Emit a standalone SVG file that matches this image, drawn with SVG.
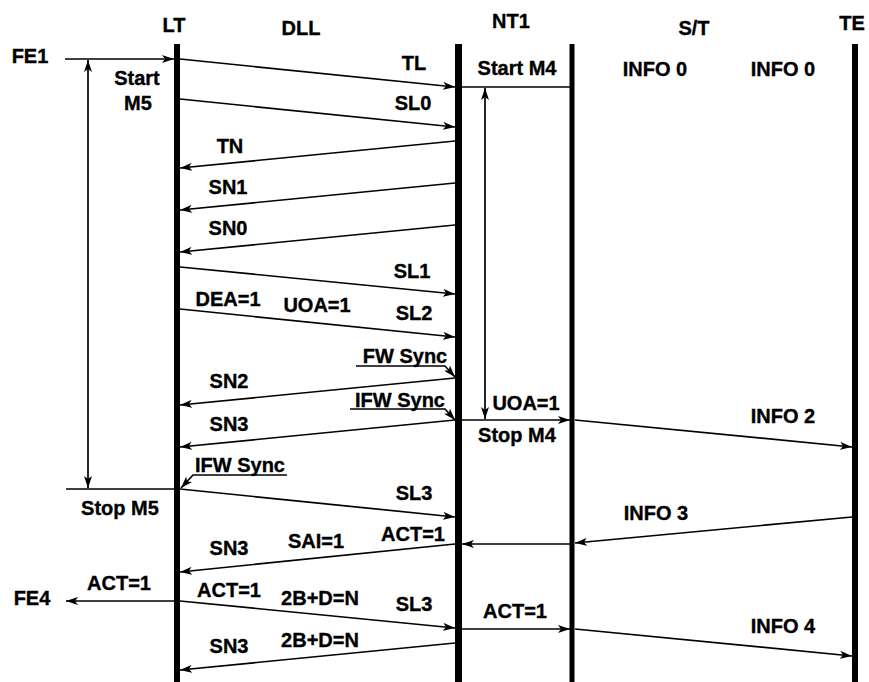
<svg xmlns="http://www.w3.org/2000/svg" width="869" height="682" viewBox="0 0 869 682">
<style>
text{font-family:"Liberation Sans",Arial,sans-serif;font-weight:bold;font-size:20px;fill:#000;stroke:#000;stroke-width:0.35;text-anchor:middle}
.life{stroke:#000;fill:none}
.c{stroke:#000;stroke-width:1.7;fill:none}
.a{marker-end:url(#ah)}
.b{marker-start:url(#ah);marker-end:url(#ah)}
</style>
<defs>
<marker id="ah" viewBox="0 0 12 8" refX="12" refY="4" markerWidth="12" markerHeight="8" orient="auto-start-reverse" markerUnits="userSpaceOnUse">
<path d="M0,0 L12,4 L0,8 L3,4 z" fill="#000"/>
</marker>
</defs>
<rect width="869" height="682" fill="#fff"/>
<g id="LT"><line class="life" x1="177" y1="44" x2="177" y2="682" stroke-width="6"/><text x="174" y="32">LT</text></g>
<g id="DLL"><text x="301" y="35">DLL</text></g>
<g id="NT1"><line class="life" x1="458.5" y1="44" x2="458.5" y2="682" stroke-width="7"/><text x="511" y="28">NT1</text></g>
<g id="ST"><line class="life" x1="572" y1="44" x2="572" y2="682" stroke-width="5"/><text x="694" y="35">S/T</text></g>
<g id="TE"><line class="life" x1="855" y1="44" x2="855" y2="682" stroke-width="6"/><text x="852" y="30">TE</text></g>
<g id="connectors">
<line class="c a" x1="65" y1="59" x2="174" y2="59"/>
<line class="c a" x1="180" y1="59" x2="455" y2="87"/>
<line class="c" x1="462" y1="87" x2="570" y2="87"/>
<line class="c a" x1="180" y1="99" x2="455" y2="127"/>
<line class="c a" x1="455" y1="141" x2="180" y2="168"/>
<line class="c a" x1="455" y1="183" x2="180" y2="210"/>
<line class="c a" x1="455" y1="225" x2="180" y2="252"/>
<line class="c a" x1="180" y1="267" x2="455" y2="294"/>
<line class="c a" x1="180" y1="309" x2="455" y2="337"/>
<polyline class="c a" points="356,366 445,366 455,377"/>
<line class="c a" x1="455" y1="378" x2="180" y2="405"/>
<polyline class="c a" points="350,409 445,409 455,420"/>
<line class="c a" x1="455" y1="420" x2="180" y2="447"/>
<line class="c a" x1="462" y1="420" x2="570" y2="420"/>
<line class="c a" x1="575" y1="420" x2="852" y2="447"/>
<line class="c b" x1="485" y1="88" x2="485" y2="419"/>
<line class="c b" x1="88" y1="60" x2="88" y2="488"/>
<line class="c" x1="66" y1="489" x2="174" y2="489"/>
<polyline class="c a" points="287,475 193,475 181,488"/>
<line class="c a" x1="180" y1="489" x2="455" y2="517"/>
<line class="c a" x1="852" y1="517" x2="575" y2="543"/>
<line class="c a" x1="570" y1="544" x2="462" y2="544"/>
<line class="c a" x1="455" y1="544" x2="180" y2="572"/>
<line class="c a" x1="174" y1="601" x2="66" y2="601"/>
<line class="c a" x1="180" y1="601" x2="455" y2="628"/>
<line class="c a" x1="462" y1="629" x2="570" y2="629"/>
<line class="c a" x1="575" y1="629" x2="852" y2="656"/>
<line class="c a" x1="455" y1="643" x2="180" y2="670"/>
</g>
<g id="labels">
<text x="30" y="63">FE1</text>
<text x="137" y="85">Start</text>
<text x="138" y="110">M5</text>
<text x="414" y="70">TL</text>
<text x="517" y="75">Start M4</text>
<text x="655" y="76">INFO 0</text>
<text x="783" y="76">INFO 0</text>
<text x="413" y="110">SL0</text>
<text x="230" y="153">TN</text>
<text x="228" y="194">SN1</text>
<text x="228" y="235">SN0</text>
<text x="412" y="278">SL1</text>
<text x="228" y="306">DEA=1</text>
<text x="317" y="312">UOA=1</text>
<text x="414" y="320">SL2</text>
<text x="405" y="363">FW Sync</text>
<text x="229" y="388">SN2</text>
<text x="400" y="407">IFW Sync</text>
<text x="526" y="410">UOA=1</text>
<text x="229" y="431">SN3</text>
<text x="517" y="442">Stop M4</text>
<text x="783" y="423">INFO 2</text>
<text x="240" y="472">IFW Sync</text>
<text x="120" y="515">Stop M5</text>
<text x="414" y="500">SL3</text>
<text x="656" y="520">INFO 3</text>
<text x="413" y="541">ACT=1</text>
<text x="316" y="548">SAI=1</text>
<text x="229" y="555">SN3</text>
<text x="119" y="590">ACT=1</text>
<text x="32" y="605">FE4</text>
<text x="229" y="597">ACT=1</text>
<text x="320" y="605">2B+D=N</text>
<text x="414" y="611">SL3</text>
<text x="515" y="618">ACT=1</text>
<text x="783" y="633">INFO 4</text>
<text x="229" y="653">SN3</text>
<text x="320" y="647">2B+D=N</text>
</g>
</svg>
